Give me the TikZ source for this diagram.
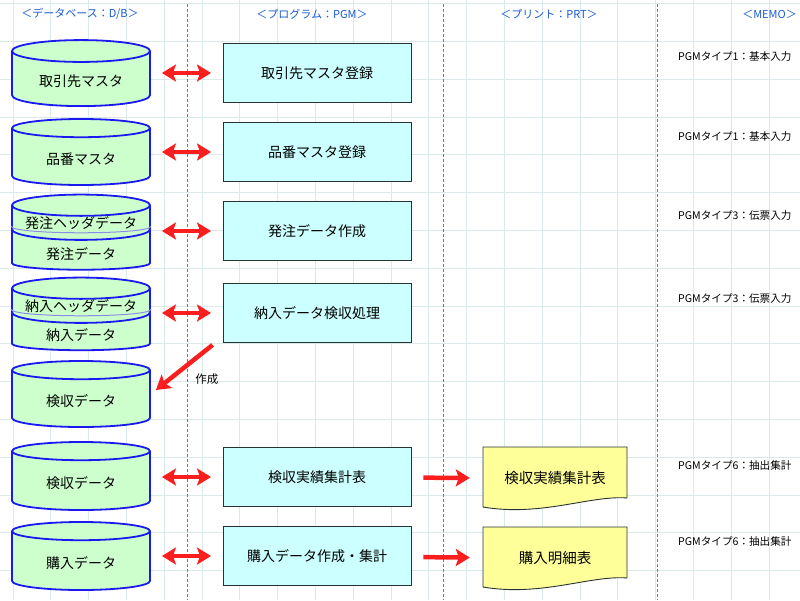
\documentclass[tikz,border=0pt]{standalone}
\usepackage{fontspec}
\setmainfont{Noto Sans CJK JP}
\usetikzlibrary{arrows.meta,shapes.geometric}

\definecolor{gridc}{RGB}{218,234,234}
\definecolor{lanegray}{RGB}{120,120,120}
\definecolor{hdrblue}{RGB}{25,90,210}
\definecolor{dbfill}{RGB}{204,255,204}
\definecolor{dbline}{RGB}{25,25,240}
\definecolor{dblight}{RGB}{140,140,230}
\definecolor{pgfill}{RGB}{204,255,255}
\definecolor{boxline}{RGB}{40,50,50}
\definecolor{prtfill}{RGB}{255,255,153}
\definecolor{arrred}{RGB}{250,30,30}

\begin{document}
\begin{tikzpicture}[
  x=1pt,y=-1pt,
  gridline/.style={draw=gridc,line width=0.8pt},
  lane/.style={draw=lanegray,line width=0.8pt,dash pattern=on 3pt off 2pt},
  hdr/.style={text=hdrblue,inner sep=0pt,font=\fontsize{11}{13}\selectfont},
  db/.style={cylinder,shape border rotate=90,aspect=0.26,draw=dbline,line width=1.8pt,fill=dbfill,
    minimum width=138pt,inner sep=0pt,text height=15pt,text depth=1pt,font=\fontsize{14}{16}\selectfont},
  dbstack/.style={db,aspect=0.19,text height=11.5pt},
  dblow/.style={dbstack,text height=19.5pt},
  divider/.style={draw=dblight,line width=1pt},
  pg/.style={draw=boxline,line width=0.9pt,fill=pgfill,minimum width=188pt,minimum height=59pt,
    inner sep=0pt,font=\fontsize{14}{16}\selectfont},
  prt/.style={minimum width=148pt,minimum height=67pt,inner sep=0pt,font=\fontsize{14.5}{16}\selectfont,
    path picture={
      \filldraw[fill=prtfill,draw=boxline,line width=0.9pt]
        ([shift={(2,2)}]path picture bounding box.north west)
        -- ([shift={(-2,2)}]path picture bounding box.north east)
        -- ([shift={(-2,53)}]path picture bounding box.north east)
        .. controls ([shift={(-38,50)}]path picture bounding box.north east)
        and ([shift={(60,72)}]path picture bounding box.north west)
        .. ([shift={(2,62)}]path picture bounding box.north west) -- cycle;}},
  memo/.style={anchor=west,inner sep=0pt,font=\fontsize{10.6}{13}\selectfont},
  tip/.tip={Stealth[length=14pt,width=17pt,inset=3pt]},
  dbl/.style={tip-tip,draw=arrred,line width=4.5pt,shorten <=11pt,shorten >=11.5pt},
  arr/.style={-tip,draw=arrred,line width=4.5pt}
]
\useasboundingbox (0,0) rectangle (800,600);
% grid and lanes
\foreach \i in {0,...,20} \draw[gridline] ({13+37.8*\i},0) -- ({13+37.8*\i},600);
\foreach \j in {0,...,15} \draw[gridline] (0,{3.5+37.8*\j}) -- (800,{3.5+37.8*\j});
\foreach \x in {187,443,657} \draw[lane] (\x,4) -- (\x,600);

\node[hdr] (hdb) at (80,14) {＜データベース：D/B＞};
\node[hdr] (hpg) at (312,14) {＜プログラム：PGM＞};
\node[hdr] (hpr) at (549,14) {＜プリント：PRT＞};
\node[hdr,anchor=east] (hmemo) at (797,14) {＜MEMO＞};

% database column
\node[db,minimum height=66pt] (torimst) at (81,79) {取引先マスタ};
\node[db,minimum height=66pt] (hinmst) at (81,157) {品番マスタ};
\node[dblow,minimum height=47pt] (hachu) at (81,250) {発注データ};
\node[dbstack,minimum height=41pt] (hachuh) at (81,223) {発注ヘッダデータ};
\node[dblow,minimum height=46pt] (nonyu) at (81,331) {納入データ};
\node[dbstack,minimum height=39pt] (nonyuh) at (81,306) {納入ヘッダデータ};
\node[db,minimum height=66pt] (kenshu) at (81,399) {検収データ};
\node[db,minimum height=68pt] (kenshu2) at (81,481) {検収データ};
\node[db,minimum height=68pt] (konyu) at (81,561) {購入データ};
\draw[divider] ([yshift=3pt]hachuh.before bottom) .. controls +(0,8.7) and +(0,8.7) .. ([yshift=3pt]hachuh.after bottom);
\draw[divider] ([yshift=3pt]nonyuh.before bottom) .. controls +(0,8.7) and +(0,8.7) .. ([yshift=3pt]nonyuh.after bottom);

% program column
\node[pg] (regtori) at (317,73) {取引先マスタ登録};
\node[pg] (reghin) at (317,152) {品番マスタ登録};
\node[pg] (mkhachu) at (317,231) {発注データ作成};
\node[pg] (kenproc) at (317,313) {納入データ検収処理};
\node[pg] (kensum) at (317,477) {検収実績集計表};
\node[pg] (konsum) at (317,556) {購入データ作成・集計};

% print column
\node[prt] (kenlist) at (555,478.5) {検収実績集計表};
\node[prt] (konlist) at (555,558.5) {購入明細表};

% memo column
\node[memo] (m1) at (678,56) {PGMタイプ1：基本入力};
\node[memo] (m2) at (678,136) {PGMタイプ1：基本入力};
\node[memo] (m3) at (678,215) {PGMタイプ3：伝票入力};
\node[memo] (m4) at (678,298) {PGMタイプ3：伝票入力};
\node[memo] (m5) at (678,465) {PGMタイプ6：抽出集計};
\node[memo] (m6) at (678,541) {PGMタイプ6：抽出集計};

\draw[dbl] (torimst.east |- regtori) -- (regtori);
\draw[dbl] (hinmst.east |- reghin) -- (reghin);
\draw[dbl] (hachuh.east |- mkhachu) -- (mkhachu);
\draw[dbl] (nonyuh.east |- kenproc) -- (kenproc);
\draw[dbl] (kenshu2.east |- kensum) -- (kensum);
\draw[dbl] (konyu.east |- konsum) -- (konsum);
\draw[arr] ([shift={(-10,2)}]kenproc.south west) -- ([shift={(5,-9)}]kenshu.east)
  node[pos=0.75,right=23pt,inner sep=0pt,font=\fontsize{11.5}{13}\selectfont] (mk) {作成};
\draw[arr,shorten <=12pt,shorten >=11pt] (kensum) -- (kenlist);
\draw[arr,shorten <=12pt,shorten >=11pt] (konsum) -- (konlist);
\end{tikzpicture}
\end{document}
